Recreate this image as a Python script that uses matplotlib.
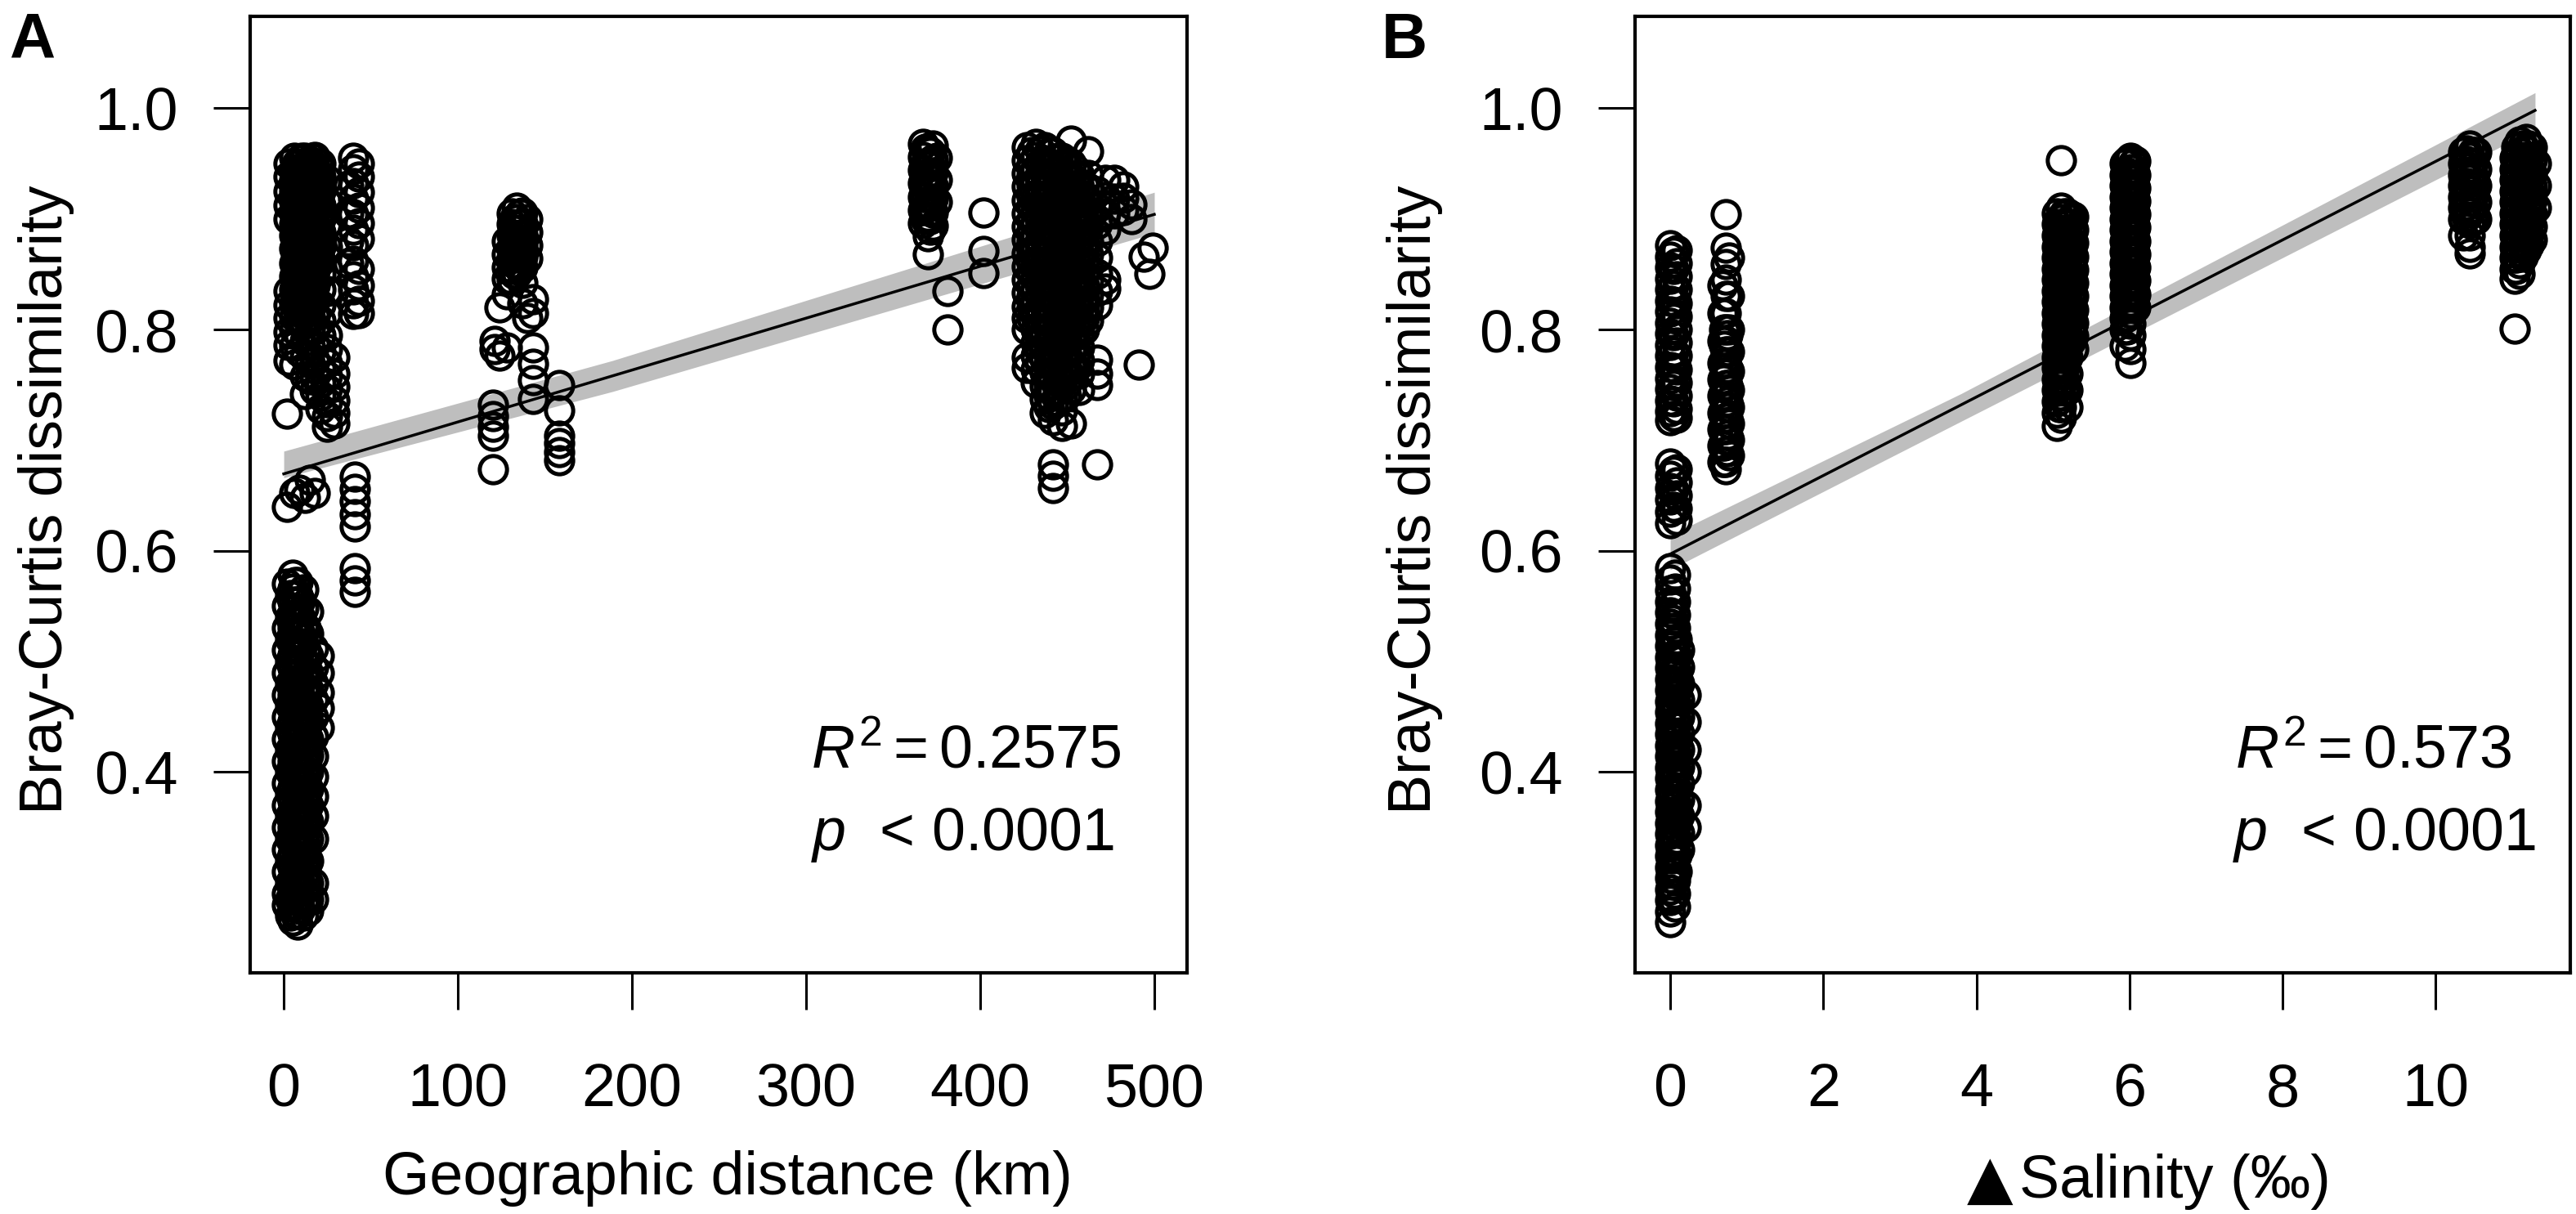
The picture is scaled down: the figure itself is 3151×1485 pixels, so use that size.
# Bray-Curtis dissimilarity vs geographic distance (A) and salinity difference (B)
import matplotlib
matplotlib.use('Agg')
import numpy as np
import matplotlib.pyplot as plt

plt.rcParams['font.family'] = ['Liberation Sans', 'DejaVu Sans']
plt.rcParams['mathtext.fontset'] = 'custom'
plt.rcParams['mathtext.rm'] = 'Liberation Sans'
plt.rcParams['mathtext.it'] = 'Liberation Sans:italic'

# ---------------- Panel A data: x = km, one y-list per column ----------------
a_x = [2, 3, 6, 7.5, 9, 10.5, 12, 13.5, 15, 16.5, 18, 19.5, 21, 25, 29,
       37, 40, 43, 41,
       2, 3.5, 5, 6.5, 8, 9.5, 11, 12.5, 14, 17, 20,
       120, 121, 124, 128, 131, 132.5, 134, 135.5, 137, 140, 143, 158,
       367, 368.5, 370, 371.5, 373, 375, 381, 402,
       427, 429.5, 432, 434.5, 437, 439.5, 442, 444.5, 447, 449.5, 452,
       454.5, 457, 459.5, 462, 467, 472, 477, 482, 487,
       491, 494, 497, 499]
a_y = [
    [0.724, 0.64],
    [0.95, 0.938, 0.925, 0.912, 0.90, 0.835, 0.822, 0.81, 0.798, 0.786, 0.772],
    [0.955, 0.945, 0.935, 0.925, 0.915, 0.905, 0.895, 0.885, 0.873, 0.86, 0.848,
     0.836, 0.824, 0.812, 0.80, 0.785, 0.768, 0.652],
    [0.95, 0.94, 0.93, 0.92, 0.91, 0.90, 0.89, 0.88, 0.87, 0.86, 0.85, 0.84,
     0.83, 0.82],
    [0.95, 0.94, 0.93, 0.92, 0.91, 0.90, 0.89, 0.88, 0.87, 0.86, 0.85, 0.84,
     0.83, 0.82, 0.81, 0.795, 0.78, 0.655],
    [0.955, 0.945, 0.935, 0.925, 0.915, 0.905, 0.895, 0.885, 0.875, 0.865,
     0.855, 0.845, 0.835, 0.825, 0.815, 0.805],
    [0.955, 0.945, 0.935, 0.925, 0.915, 0.905, 0.895, 0.885, 0.875, 0.865,
     0.855, 0.845, 0.835, 0.825, 0.815, 0.805, 0.79, 0.775, 0.758, 0.742, 0.648],
    [0.95, 0.94, 0.93, 0.92, 0.91, 0.90, 0.89, 0.88, 0.87, 0.86, 0.85, 0.84,
     0.83, 0.82, 0.81],
    [0.952, 0.942, 0.932, 0.922, 0.912, 0.902, 0.892, 0.882, 0.872, 0.862,
     0.852, 0.842, 0.832, 0.822, 0.812, 0.80, 0.785, 0.77, 0.755, 0.664],
    [0.955, 0.945, 0.935, 0.925, 0.915, 0.905, 0.895, 0.885, 0.875, 0.865,
     0.855, 0.845, 0.835],
    [0.956, 0.946, 0.936, 0.926, 0.916, 0.906, 0.896, 0.886, 0.876, 0.866,
     0.853, 0.84, 0.826, 0.812, 0.80, 0.786, 0.772, 0.758, 0.745, 0.652],
    [0.95, 0.94, 0.93, 0.92, 0.91, 0.90, 0.89, 0.88, 0.87, 0.86],
    [0.95, 0.938, 0.925, 0.912, 0.90, 0.888, 0.875, 0.862, 0.85, 0.836, 0.822,
     0.808, 0.795, 0.78, 0.765, 0.752, 0.74, 0.728],
    [0.935, 0.915, 0.895, 0.875, 0.855, 0.835, 0.815, 0.795, 0.782, 0.77,
     0.758, 0.746, 0.734, 0.722, 0.712],
    [0.775, 0.76, 0.748, 0.736, 0.725, 0.715],
    [0.93, 0.905, 0.88, 0.86],
    [0.955, 0.945, 0.932, 0.918, 0.904, 0.89, 0.876, 0.862, 0.848, 0.836,
     0.824, 0.814],
    [0.95, 0.938, 0.924, 0.91, 0.896, 0.882, 0.855, 0.84, 0.826, 0.815],
    [0.667, 0.656, 0.645, 0.633, 0.622, 0.584, 0.573, 0.563],
    [0.57, 0.55, 0.53, 0.51, 0.49, 0.47, 0.45, 0.43, 0.41, 0.39, 0.37, 0.35,
     0.33, 0.31, 0.29, 0.28],
    [0.56, 0.54, 0.52, 0.50, 0.48, 0.46, 0.44, 0.42, 0.40, 0.38, 0.36, 0.34,
     0.32, 0.30, 0.285, 0.27],
    [0.578, 0.566, 0.554, 0.542, 0.53, 0.518, 0.506, 0.494, 0.482, 0.47,
     0.458, 0.446, 0.434, 0.422, 0.41, 0.398, 0.386, 0.374, 0.362, 0.35,
     0.338, 0.326, 0.314, 0.302, 0.29, 0.278, 0.266],
    [0.572, 0.56, 0.548, 0.536, 0.524, 0.512, 0.50, 0.488, 0.476, 0.464,
     0.452, 0.44, 0.428, 0.416, 0.404, 0.392, 0.38, 0.368, 0.356, 0.344,
     0.332, 0.32, 0.308, 0.296, 0.284, 0.272],
    [0.572, 0.56, 0.548, 0.536, 0.524, 0.512, 0.50, 0.488, 0.476, 0.464,
     0.452, 0.44, 0.428, 0.416, 0.404, 0.392, 0.38, 0.368, 0.356, 0.344,
     0.332, 0.32, 0.308, 0.296, 0.284, 0.272, 0.262],
    [0.555, 0.54, 0.525, 0.51, 0.495, 0.48, 0.468, 0.456, 0.444, 0.432, 0.42,
     0.408, 0.396, 0.384, 0.372, 0.36, 0.348, 0.336, 0.324, 0.312, 0.30,
     0.288, 0.276],
    [0.565, 0.548, 0.532, 0.516, 0.50, 0.486, 0.474, 0.462, 0.45, 0.438,
     0.426, 0.414, 0.402, 0.39, 0.378, 0.366, 0.354, 0.342, 0.33, 0.318,
     0.306, 0.294, 0.282, 0.27],
    [0.53, 0.51, 0.49, 0.475, 0.46, 0.445, 0.43, 0.418, 0.406, 0.394, 0.382,
     0.37, 0.358, 0.346, 0.334, 0.322, 0.31, 0.298, 0.286],
    [0.545, 0.525, 0.505, 0.49, 0.475, 0.46, 0.445, 0.43, 0.415, 0.40, 0.385,
     0.37, 0.355, 0.34, 0.32, 0.30, 0.285, 0.275],
    [0.512, 0.495, 0.48, 0.465, 0.45, 0.432, 0.414, 0.396, 0.378, 0.36, 0.34,
     0.30, 0.285],
    [0.505, 0.49, 0.472, 0.458, 0.44],
    [0.732, 0.722, 0.712, 0.704, 0.674],
    [0.79, 0.782],
    [0.82, 0.776],
    [0.88, 0.868, 0.856, 0.846, 0.832, 0.784],
    [0.905, 0.895, 0.885, 0.875, 0.865, 0.855, 0.845],
    [0.90, 0.89, 0.88, 0.87, 0.86, 0.85],
    [0.91, 0.90, 0.89, 0.88, 0.87, 0.86, 0.85],
    [0.905, 0.895, 0.885, 0.875, 0.865, 0.855],
    [0.906, 0.896, 0.886, 0.876, 0.866, 0.856, 0.842, 0.824],
    [0.90, 0.888, 0.876, 0.864, 0.81],
    [0.827, 0.815, 0.784, 0.769, 0.754, 0.737],
    [0.75, 0.727, 0.704, 0.697, 0.689, 0.682],
    [0.968, 0.956, 0.944, 0.932, 0.92, 0.908, 0.896],
    [0.963, 0.95, 0.94, 0.93, 0.92, 0.91, 0.90],
    [0.962, 0.95, 0.938, 0.926, 0.914, 0.902, 0.884, 0.868],
    [0.96, 0.948, 0.936, 0.924, 0.912, 0.90, 0.89],
    [0.966, 0.954, 0.942, 0.93, 0.918, 0.906, 0.894],
    [0.955, 0.935, 0.915],
    [0.835, 0.80],
    [0.906, 0.871, 0.851],
    [0.965, 0.953, 0.941, 0.929, 0.917, 0.905, 0.893, 0.881, 0.869, 0.857,
     0.845, 0.833, 0.821, 0.81, 0.80, 0.775, 0.765],
    [0.96, 0.95, 0.94, 0.93, 0.92, 0.91, 0.90, 0.89, 0.88, 0.87, 0.86, 0.85,
     0.84, 0.83, 0.82, 0.81],
    [0.968, 0.956, 0.944, 0.932, 0.92, 0.908, 0.896, 0.884, 0.872, 0.86,
     0.848, 0.836, 0.824, 0.812, 0.80, 0.788, 0.776, 0.764, 0.752],
    [0.962, 0.95, 0.94, 0.93, 0.92, 0.91, 0.90, 0.89, 0.88, 0.87, 0.86, 0.85,
     0.84, 0.83, 0.82, 0.81, 0.80, 0.79, 0.78, 0.77],
    [0.965, 0.953, 0.941, 0.929, 0.917, 0.905, 0.893, 0.881, 0.869, 0.857,
     0.845, 0.833, 0.821, 0.809, 0.797, 0.785, 0.773, 0.761, 0.749, 0.737,
     0.725],
    [0.96, 0.95, 0.94, 0.93, 0.92, 0.91, 0.90, 0.89, 0.88, 0.87, 0.86, 0.85,
     0.84, 0.83, 0.82, 0.81, 0.80, 0.79, 0.78, 0.77, 0.76, 0.75, 0.74, 0.73],
    [0.96, 0.948, 0.936, 0.924, 0.912, 0.90, 0.888, 0.876, 0.864, 0.852,
     0.84, 0.828, 0.816, 0.804, 0.792, 0.78, 0.768, 0.756, 0.744, 0.732,
     0.718, 0.678, 0.668, 0.657],
    [0.955, 0.945, 0.935, 0.925, 0.915, 0.905, 0.895, 0.885, 0.875, 0.865,
     0.855, 0.845, 0.835, 0.825, 0.815, 0.805, 0.795, 0.785, 0.775, 0.765,
     0.755, 0.745, 0.735],
    [0.955, 0.943, 0.931, 0.919, 0.907, 0.895, 0.883, 0.871, 0.859, 0.847,
     0.835, 0.823, 0.811, 0.799, 0.787, 0.775, 0.763, 0.751, 0.739, 0.727,
     0.713],
    [0.95, 0.94, 0.93, 0.92, 0.91, 0.90, 0.89, 0.88, 0.87, 0.86, 0.85, 0.84,
     0.83, 0.82, 0.81, 0.80, 0.79, 0.78, 0.77, 0.76, 0.75, 0.74],
    [0.971, 0.95, 0.938, 0.926, 0.914, 0.902, 0.89, 0.878, 0.866, 0.854,
     0.842, 0.83, 0.818, 0.806, 0.794, 0.782, 0.77, 0.758, 0.746, 0.715],
    [0.945, 0.935, 0.925, 0.915, 0.905, 0.895, 0.885, 0.875, 0.865, 0.855,
     0.845, 0.835, 0.825, 0.815, 0.805, 0.795, 0.785, 0.775, 0.765],
    [0.94, 0.928, 0.916, 0.904, 0.892, 0.88, 0.868, 0.856, 0.844, 0.832,
     0.82, 0.808, 0.796, 0.784, 0.772, 0.76, 0.745],
    [0.93, 0.92, 0.91, 0.90, 0.89, 0.88, 0.87, 0.86, 0.85, 0.84, 0.83, 0.82,
     0.81, 0.80],
    [0.961, 0.94, 0.928, 0.916, 0.904, 0.892, 0.88, 0.868, 0.856, 0.844,
     0.832, 0.82, 0.808],
    [0.925, 0.91, 0.895, 0.88, 0.865, 0.85, 0.835, 0.822, 0.773, 0.76, 0.75,
     0.678],
    [0.935, 0.92, 0.905, 0.89, 0.845, 0.837],
    [0.935, 0.918, 0.905],
    [0.929, 0.919, 0.908],
    [0.913, 0.90],
    [0.768],
    [0.866],
    [0.85],
    [0.874],
]

# ---------------- Panel B data: x = salinity difference ----------------
b_x = [0.0, 0.03, 0.04, 0.06, 0.08, 0.09, 0.12, 0.2,
       0.68, 0.7, 0.73, 0.75, 0.77,
       5.05, 5.08, 5.11, 5.15, 5.19, 5.23, 5.27,
       5.94, 5.97, 6.01, 6.05, 6.08,
       10.36, 10.4, 10.45, 10.49, 10.53,
       11.03, 11.06, 11.1, 11.14, 11.18, 11.22, 11.26, 11.31]
b_y = [
    [0.876, 0.866, 0.856, 0.846, 0.836, 0.826, 0.816, 0.806, 0.796, 0.786,
     0.776, 0.766, 0.756, 0.746, 0.736, 0.726, 0.718,
     0.679, 0.668, 0.657, 0.646, 0.635, 0.625,
     0.584, 0.574, 0.564, 0.554, 0.544, 0.534, 0.524, 0.514, 0.504, 0.494,
     0.484, 0.474, 0.464, 0.454, 0.444, 0.434, 0.424, 0.414, 0.404, 0.394,
     0.384, 0.374, 0.364, 0.354, 0.344, 0.334, 0.324, 0.314, 0.304, 0.294,
     0.284, 0.274, 0.264],
    [0.55, 0.538, 0.526, 0.514, 0.502, 0.49, 0.478, 0.466, 0.454, 0.442,
     0.43, 0.418, 0.406, 0.394, 0.382, 0.37, 0.358, 0.346, 0.334, 0.322,
     0.31, 0.298, 0.286],
    [0.87, 0.855, 0.84, 0.825, 0.81, 0.795, 0.78, 0.765, 0.75, 0.735, 0.722,
     0.672, 0.655, 0.64],
    [0.578, 0.566, 0.554, 0.542, 0.53, 0.518, 0.506, 0.494, 0.482, 0.47,
     0.458, 0.446, 0.434, 0.422, 0.41, 0.398, 0.386, 0.374, 0.362, 0.35,
     0.338, 0.326, 0.314, 0.302, 0.29, 0.278],
    [0.872, 0.86, 0.848, 0.836, 0.824, 0.812, 0.80, 0.788, 0.776, 0.764,
     0.752, 0.74, 0.728, 0.72,
     0.674, 0.662, 0.65, 0.638, 0.628],
    [0.52, 0.505, 0.49, 0.475, 0.46, 0.445, 0.43, 0.415, 0.40, 0.385, 0.37,
     0.355, 0.34, 0.325, 0.31],
    [0.51, 0.495, 0.48, 0.465, 0.45, 0.435, 0.42, 0.405, 0.39, 0.375, 0.36,
     0.345, 0.33],
    [0.47, 0.445, 0.42, 0.40, 0.37, 0.35],
    [0.84, 0.815, 0.79, 0.77, 0.755, 0.74, 0.725, 0.71, 0.695, 0.68],
    [0.80, 0.785, 0.77, 0.755, 0.74, 0.725, 0.71, 0.695, 0.68],
    [0.904, 0.874, 0.859, 0.845, 0.83, 0.815, 0.80, 0.79, 0.78, 0.77, 0.76,
     0.75, 0.74, 0.73, 0.72, 0.71, 0.70, 0.69, 0.68, 0.674],
    [0.795, 0.78, 0.765, 0.75, 0.735, 0.72, 0.705, 0.69],
    [0.865, 0.83, 0.80, 0.78, 0.762, 0.745, 0.73, 0.715, 0.70, 0.686],
    [0.905, 0.895, 0.885, 0.875, 0.865, 0.855, 0.845, 0.835, 0.825, 0.815,
     0.805, 0.795, 0.785, 0.775, 0.765, 0.755, 0.745, 0.735, 0.725, 0.713],
    [0.90, 0.89, 0.88, 0.87, 0.86, 0.85, 0.84, 0.83, 0.82, 0.81, 0.80, 0.79,
     0.78, 0.77, 0.76, 0.75, 0.74, 0.73],
    [0.953, 0.91, 0.90, 0.89, 0.88, 0.87, 0.86, 0.85, 0.84, 0.83, 0.82, 0.81,
     0.80, 0.79, 0.78, 0.77, 0.76, 0.75, 0.74, 0.73, 0.72],
    [0.905, 0.895, 0.885, 0.875, 0.865, 0.855, 0.845, 0.835, 0.825, 0.815,
     0.805, 0.795, 0.785, 0.775, 0.765, 0.755, 0.745],
    [0.905, 0.895, 0.885, 0.875, 0.865, 0.855, 0.845, 0.835, 0.825, 0.815,
     0.805, 0.795, 0.785, 0.775, 0.76, 0.745, 0.73],
    [0.90, 0.89, 0.88, 0.87, 0.86, 0.85, 0.84, 0.83, 0.82, 0.81, 0.80, 0.79],
    [0.902, 0.89, 0.878, 0.866, 0.854, 0.842, 0.83, 0.818, 0.806, 0.794,
     0.782],
    [0.95, 0.94, 0.93, 0.92, 0.91, 0.90, 0.89, 0.88, 0.87, 0.86, 0.85, 0.84,
     0.83, 0.82, 0.81, 0.80, 0.785],
    [0.952, 0.942, 0.932, 0.922, 0.912, 0.902, 0.892, 0.882, 0.872, 0.862,
     0.852, 0.842, 0.832, 0.822, 0.812, 0.80],
    [0.955, 0.945, 0.935, 0.925, 0.915, 0.905, 0.895, 0.885, 0.875, 0.865,
     0.855, 0.845, 0.835, 0.825, 0.815, 0.805, 0.795, 0.782, 0.77],
    [0.95, 0.94, 0.93, 0.92, 0.91, 0.90, 0.89, 0.88, 0.87, 0.86, 0.85, 0.84,
     0.83, 0.82],
    [0.952, 0.94, 0.928, 0.916, 0.904, 0.892, 0.88, 0.868, 0.856, 0.844,
     0.832, 0.82],
    [0.96, 0.95, 0.94, 0.93, 0.92, 0.91, 0.90, 0.885],
    [0.962, 0.952, 0.942, 0.932, 0.922, 0.912, 0.902],
    [0.966, 0.956, 0.946, 0.936, 0.926, 0.916, 0.906, 0.896, 0.885, 0.875,
     0.869],
    [0.96, 0.95, 0.94, 0.93, 0.92, 0.91, 0.90],
    [0.96, 0.945, 0.93, 0.915, 0.90],
    [0.955, 0.945, 0.935, 0.925, 0.915, 0.905, 0.895, 0.885, 0.875, 0.865,
     0.855, 0.846, 0.801],
    [0.965, 0.955, 0.945, 0.935, 0.925, 0.915, 0.905, 0.895, 0.885, 0.875,
     0.865, 0.855],
    [0.97, 0.96, 0.95, 0.94, 0.93, 0.92, 0.91, 0.90, 0.89, 0.88, 0.87, 0.86,
     0.85],
    [0.966, 0.956, 0.946, 0.936, 0.926, 0.916, 0.906, 0.896, 0.886, 0.876,
     0.866],
    [0.972, 0.962, 0.952, 0.942, 0.932, 0.922, 0.912, 0.902, 0.892, 0.882,
     0.872],
    [0.966, 0.956, 0.946, 0.936, 0.926, 0.916, 0.906, 0.896, 0.886, 0.876],
    [0.965, 0.953, 0.941, 0.929, 0.917, 0.905, 0.893, 0.881],
    [0.95, 0.93, 0.91],
]

# fitted lines and confidence bands
a_fit_x = [0, 500]
a_fit_y = [0.6695, 0.904]
a_band_x = [0, 189, 500]
a_band_lo = [0.666, 0.744, 0.887]
a_band_hi = [0.690, 0.772, 0.924]

b_fit_x = [0, 11.3]
b_fit_y = [0.597, 0.998]
b_band_x = [0, 3.8, 11.3]
b_band_lo = [0.583, 0.717, 0.981]
b_band_hi = [0.614, 0.742, 1.014]

a_stats = ['$R^2=0.2575$', '$p$  < 0.0001']
b_stats = ['$R^2=0.573$', '$p$  < 0.0001']

a_xticks = [0, 100, 200, 300, 400, 500]
b_xticks = [0, 2, 4, 6, 8, 10]
yticks = [0.4, 0.6, 0.8, 1.0]


def flatten(xs, ys):
    px, py = [], []
    for x, col in zip(xs, ys):
        px.extend([x] * len(col))
        py.extend(col)
    return np.array(px), np.array(py)


W, H = 3151, 1485
fig = plt.figure(figsize=(W / 100, H / 100), dpi=100)
ax_a = fig.add_axes([306 / W, 1 - 1190 / H, 1146 / W, 1170 / H])
ax_b = fig.add_axes([2000 / W, 1 - 1190 / H, 1144 / W, 1170 / H])

FS = 53
panels = [
    (ax_a, a_x, a_y, a_fit_x, a_fit_y, a_band_x, a_band_lo, a_band_hi,
     (-19.3, 518.8), a_xticks, a_stats, (392, 390)),
    (ax_b, b_x, b_y, b_fit_x, b_fit_y, b_band_x, b_band_lo, b_band_hi,
     (-0.46, 11.76), b_xticks, b_stats, (9.18, 9.33)),
]

for (ax, xs, ys, fx, fy, bx, blo, bhi, xlim, xt, stats, sx) in panels:
    ax.fill_between(bx, blo, bhi, color='#bebebe', linewidth=0, zorder=1)
    px, py = flatten(xs, ys)
    ax.plot(px, py, linestyle='none', marker='o', ms=24, mfc='none',
            mec='black', mew=3.6, zorder=2)
    ax.plot(fx, fy, color='black', linewidth=2.5, zorder=3)

    ax.set_xlim(*xlim)
    ax.set_ylim(0.2185, 1.083)
    ax.set_xticks(xt)
    ax.set_yticks(yticks)
    ax.set_xticklabels([str(t) for t in xt])
    ax.set_yticklabels([f'{t:.1f}' for t in yticks])
    for s in ax.spines.values():
        s.set_linewidth(3)
    ax.tick_params(axis='both', direction='out', length=32.5, width=2.2,
                   labelsize=FS)
    ax.tick_params(axis='x', pad=46)
    ax.tick_params(axis='y', pad=31)

    ax.text(sx[0], 0.404, stats[0], ha='center', va='baseline', fontsize=FS)
    ax.text(sx[1], 0.329, stats[1], ha='center', va='baseline', fontsize=FS)

# axis labels and panel letters
fig.text(57 / W, 1 - 611 / H, 'Bray-Curtis dissimilarity', rotation=90,
         ha='center', va='center', fontsize=FS)
fig.text(1731 / W, 1 - 611 / H, 'Bray-Curtis dissimilarity', rotation=90,
         ha='center', va='center', fontsize=FS)
fig.text(890 / W, 1 - 1461 / H, 'Geographic distance (km)', ha='center',
         va='baseline', fontsize=FS)
fig.text(2434 / W, 1 - 1465 / H, '\u25b2', ha='center', va='baseline',
         fontsize=53, family='DejaVu Sans')
fig.text(2470 / W, 1 - 1465 / H, 'Salinity (\u2030)', ha='left',
         va='baseline', fontsize=FS)
fig.text(11 / W, 1 - 71 / H, 'A', ha='left', va='baseline', fontsize=56,
         fontweight='bold')
fig.text(1690 / W, 1 - 71 / H, 'B', ha='left', va='baseline', fontsize=56,
         fontweight='bold')

fig.savefig('out.png', dpi=100, facecolor='white')
